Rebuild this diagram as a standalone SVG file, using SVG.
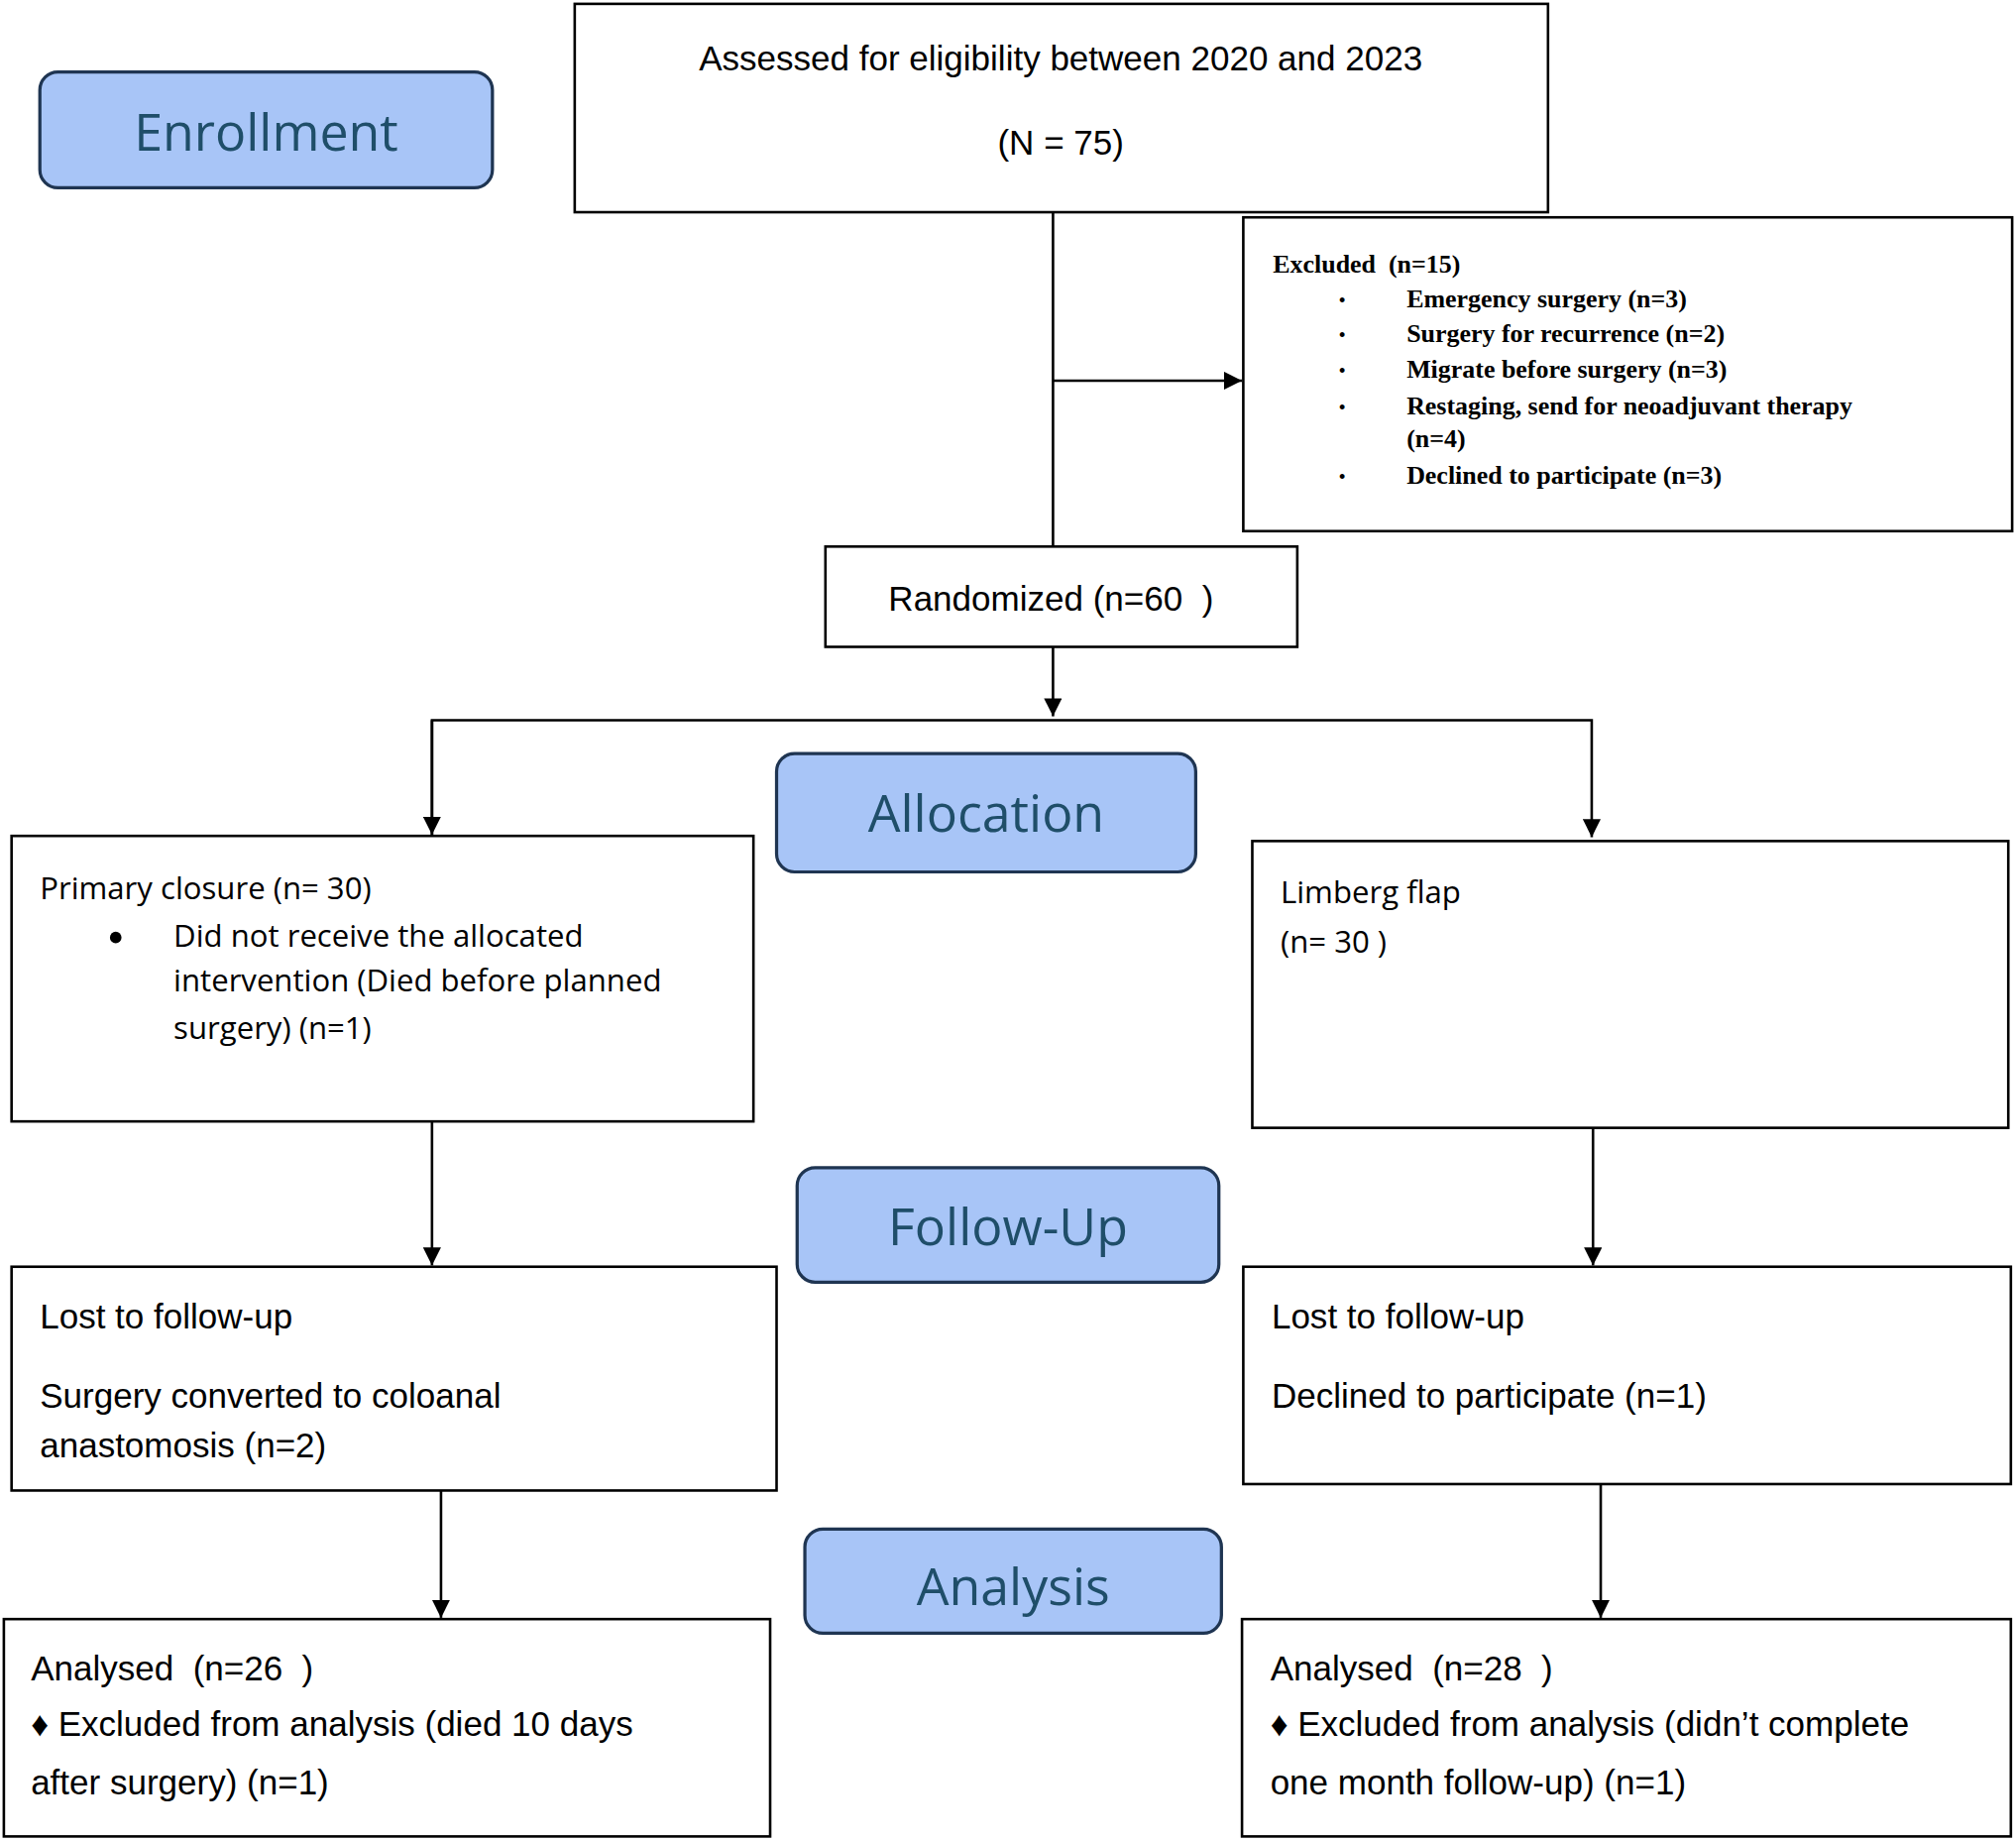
<svg xmlns="http://www.w3.org/2000/svg" width="2034" height="1857" viewBox="0 0 2034 1857">
<style>
.b{fill:#fff;stroke:#000;stroke-width:2}
.s{fill:#a8c5f7;stroke:#1f3552;stroke-width:2.5}
.st{font-family:"Open Sans","Noto Sans",sans-serif;font-size:40px;fill:#1f4e69;text-anchor:middle}
.a{font-family:"Liberation Sans",Arial,sans-serif;font-size:27px;fill:#000}
.c{font-family:"Open Sans","Noto Sans",sans-serif;font-size:24px;fill:#000}
.t{font-family:"Liberation Serif","Times New Roman",serif;font-size:20px;font-weight:bold;fill:#000}
.l{stroke:#000;stroke-width:2;fill:none}
</style>
<defs><marker id="ar" viewBox="0 0 10 10" refX="10" refY="5" markerWidth="8" markerHeight="8" markerUnits="userSpaceOnUse" orient="auto"><path d="M0,0L10,5L0,10z" fill="#000"/></marker>
<marker id="ah" viewBox="0 0 10 10" refX="10" refY="5" markerWidth="14" markerHeight="14" markerUnits="userSpaceOnUse" orient="auto"><path d="M0,0L10,5L0,10z" fill="#000"/></marker></defs>
<rect width="2034" height="1857" fill="#fff"/>
<g transform="scale(1.2972)">
<g id="connectors">
<path class="l" d="M819,165V425"/>
<path class="l" d="M819,296H966" marker-end="url(#ah)"/>
<path class="l" d="M819,503V557" marker-end="url(#ah)"/>
<path class="l" d="M336,649V560H1238V651" marker-end="url(#ah)"/>
<path class="l" d="M336,560V649" marker-end="url(#ah)"/>
<path class="l" d="M336,872V984" marker-end="url(#ah)"/>
<path class="l" d="M1239,877V984" marker-end="url(#ah)"/>
<path class="l" d="M343,1155V1258" marker-end="url(#ah)"/>
<path class="l" d="M1245,1154V1258" marker-end="url(#ah)"/>
</g>
<g id="enrollment"><rect class="s" x="31" y="56" width="352" height="90" rx="14"/><text class="st" x="207" y="117">Enrollment</text></g>
<g id="assessed"><rect class="b" x="447" y="3" width="757" height="162"/><text class="a" x="825" y="55" text-anchor="middle">Assessed for eligibility between 2020 and 2023</text><text class="a" x="825" y="120" text-anchor="middle">(N = 75)</text></g>
<g id="excluded"><rect class="b" x="967" y="169" width="598" height="244"/>
<text class="t" x="990" y="212" xml:space="preserve">Excluded  (n=15)</text>
<g font-family="Liberation Serif,serif" font-size="16"><text x="1041" y="239">•</text><text x="1041" y="266">•</text><text x="1041" y="294">•</text><text x="1041" y="322">•</text><text x="1041" y="376">•</text></g>
<text class="t" x="1094" y="239">Emergency surgery (n=3)</text>
<text class="t" x="1094" y="266">Surgery for recurrence (n=2)</text>
<text class="t" x="1094" y="294">Migrate before surgery (n=3)</text>
<text class="t" x="1094" y="322">Restaging, send for neoadjuvant therapy</text>
<text class="t" x="1094" y="348">(n=4)</text>
<text class="t" x="1094" y="376">Declined to participate (n=3)</text></g>
<g id="randomized"><rect class="b" x="642" y="425" width="367" height="78"/><text class="a" x="691" y="475" xml:space="preserve">Randomized (n=60  )</text></g>
<g id="allocation"><rect class="s" x="604" y="586" width="326" height="92" rx="14"/><text class="st" x="767" y="647">Allocation</text></g>
<g id="primary"><rect class="b" x="9" y="650" width="577" height="222"/>
<text class="c" x="31" y="699">Primary closure (n= 30)</text>
<circle cx="90" cy="729" r="4.5"/>
<text class="c" x="135" y="736">Did not receive the allocated</text>
<text class="c" x="135" y="771">intervention (Died before planned</text>
<text class="c" x="135" y="808">surgery) (n=1)</text></g>
<g id="limberg"><rect class="b" x="974" y="654" width="588" height="223"/>
<text class="c" x="996" y="702">Limberg flap</text><text class="c" x="996" y="741">(n= 30 )</text></g>
<g id="followup"><rect class="s" x="620" y="908" width="328" height="89" rx="14"/><text class="st" x="784" y="968">Follow-Up</text></g>
<g id="lostleft"><rect class="b" x="9" y="985" width="595" height="174"/>
<text class="a" x="31" y="1033">Lost to follow-up</text>
<text class="a" x="31" y="1095">Surgery converted to coloanal</text>
<text class="a" x="31" y="1133">anastomosis (n=2)</text></g>
<g id="lostright"><rect class="b" x="967" y="985" width="597" height="169"/>
<text class="a" x="989" y="1033">Lost to follow-up</text>
<text class="a" x="989" y="1095">Declined to participate (n=1)</text></g>
<g id="analysis"><rect class="s" x="626" y="1189" width="324" height="81" rx="14"/><text class="st" x="788" y="1248">Analysis</text></g>
<g id="analysedleft"><rect class="b" x="3" y="1259" width="596" height="169"/>
<text class="a" x="24" y="1307" xml:space="preserve">Analysed  (n=26  )</text>
<text class="a" x="24" y="1350">♦ Excluded from analysis (died 10 days</text>
<text class="a" x="24" y="1395">after surgery) (n=1)</text></g>
<g id="analysedright"><rect class="b" x="966" y="1259" width="598" height="169"/>
<text class="a" x="988" y="1307" xml:space="preserve">Analysed  (n=28  )</text>
<text class="a" x="988" y="1350">♦ Excluded from analysis (didn’t complete</text>
<text class="a" x="988" y="1395">one month follow-up) (n=1)</text></g>
</g>
</svg>
